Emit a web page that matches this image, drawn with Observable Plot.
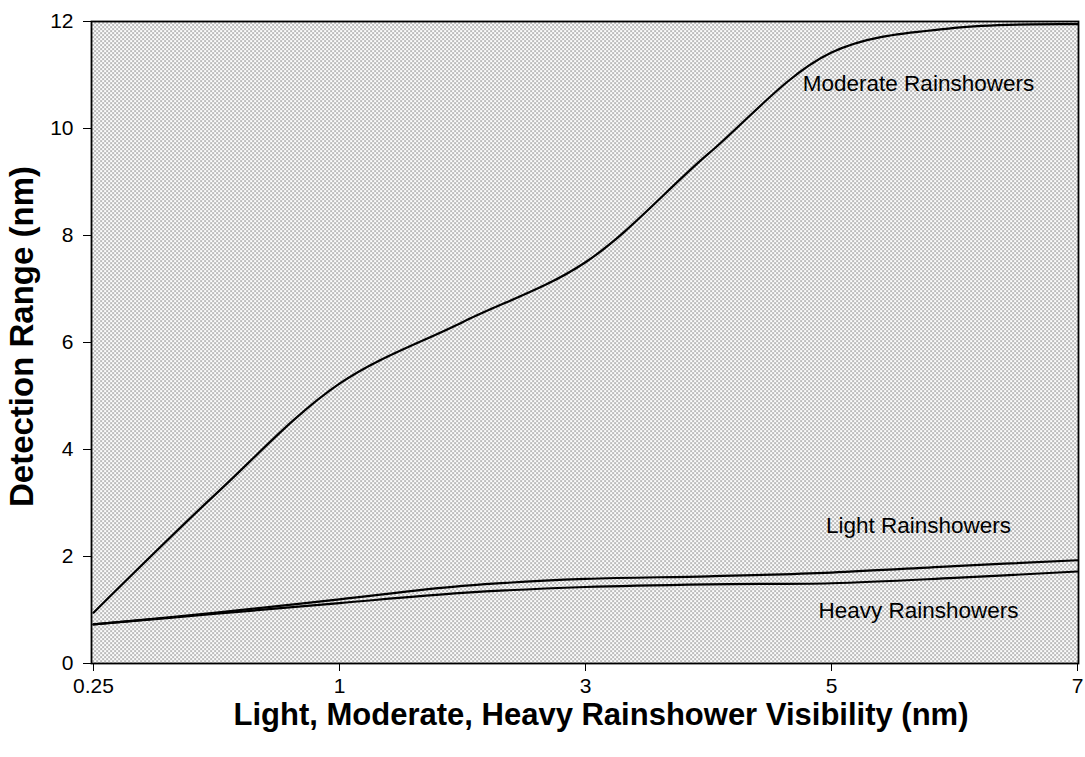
<!DOCTYPE html>
<html>
<head>
<meta charset="utf-8">
<script src="https://cdn.jsdelivr.net/npm/d3@7"></script>
<script src="https://cdn.jsdelivr.net/npm/@observablehq/plot@0.6"></script>
<style>
  html, body { margin: 0; padding: 0; background: #fff; }
  #chart { width: 1085px; height: 757px; }
  svg { font-family: "Liberation Sans", Arial, sans-serif; }
  svg g[aria-label^="x-axis"] text, svg g[aria-label^="y-axis"] text { font-size: 21px !important; }
</style>
</head>
<body>
<div id="chart"></div>
<script>
const categories = ["0.25", "0.5", "1", "2", "3", "4", "5", "6", "7"];
const tickLabels = ["0.25", "1", "3", "5", "7"];
const yTicks = [0, 2, 4, 6, 8, 10, 12];
const moderate = [0.95, 3.18, 5.23, 6.38, 7.5, 9.53, 11.42, 11.88, 11.95];
const light    = [0.73, 0.95, 1.2, 1.45, 1.58, 1.63, 1.7, 1.82, 1.93];
const heavy    = [0.73, 0.93, 1.13, 1.32, 1.43, 1.48, 1.5, 1.6, 1.72];
const seriesNames = ["Moderate Rainshowers", "Light Rainshowers", "Heavy Rainshowers"];
const labelPos = [
  {name: "Moderate Rainshowers", x: "6", y: 10.84},
  {name: "Light Rainshowers", x: "6", y: 2.58},
  {name: "Heavy Rainshowers", x: "6", y: 0.99}
];
const xTitle = "Light, Moderate, Heavy Rainshower Visibility (nm)";
const yTitle = "Detection Range (nm)";

const seriesValues = [moderate, light, heavy];
const data = seriesNames.flatMap((s, i) =>
  categories.map((c, j) => ({series: s, x: c, y: seriesValues[i][j]})));

const chart = Plot.plot({
  width: 1085,
  height: 757,
  marginLeft: 91,
  marginRight: 7,
  marginTop: 21,
  marginBottom: 94,
  style: {fontFamily: "'Liberation Sans', Arial, sans-serif", background: "#fff"},
  x: {type: "point", domain: categories, padding: 0},
  y: {domain: [0, 12]},
  marks: [
    Plot.frame({fill: "url(#dots)", stroke: "black", strokeWidth: 1.8}),
    Plot.axisY({ticks: yTicks, tickSize: 8, tickPadding: 10, fontSize: 21, label: null, stroke: "black", color: "black"}),
    Plot.axisX({ticks: tickLabels, tickSize: 8, tickPadding: 7, fontSize: 21, label: null, color: "black"}),
    Plot.line(data, {x: "x", y: "y", z: "series", stroke: "black", strokeWidth: 2.2, curve: "catmull-rom"}),
    Plot.text(labelPos, {x: "x", y: "y", text: "name", dx: -36, fontSize: 22.5, fill: "black"}),
    Plot.text([xTitle], {frameAnchor: "bottom", lineAnchor: "middle", textAnchor: "middle", dx: 16, dy: 52, text: d => d, fontSize: 31, fontWeight: "bold", fill: "black"}),
    Plot.text([yTitle], {frameAnchor: "left", lineAnchor: "middle", textAnchor: "middle", dx: -69, dy: -6, rotate: -90, text: d => d, fontSize: 33, fontWeight: "bold", fill: "black"})
  ]
});

const ns = "http://www.w3.org/2000/svg";
const defs = document.createElementNS(ns, "defs");
const pat = document.createElementNS(ns, "pattern");
pat.setAttribute("id", "dots");
pat.setAttribute("patternUnits", "userSpaceOnUse");
pat.setAttribute("width", "4");
pat.setAttribute("height", "4");
const bg = document.createElementNS(ns, "rect");
bg.setAttribute("width", "4"); bg.setAttribute("height", "4"); bg.setAttribute("fill", "#fcfcfc");
pat.appendChild(bg);
for (const [px, py] of [[0, 0], [2, 2]]) {
  const r = document.createElementNS(ns, "rect");
  r.setAttribute("x", px); r.setAttribute("y", py);
  r.setAttribute("width", "1.15"); r.setAttribute("height", "1.15");
  r.setAttribute("fill", "#383838");
  pat.appendChild(r);
}
defs.appendChild(pat);
chart.insertBefore(defs, chart.firstChild);
document.getElementById("chart").appendChild(chart);
</script>
</body>
</html>
